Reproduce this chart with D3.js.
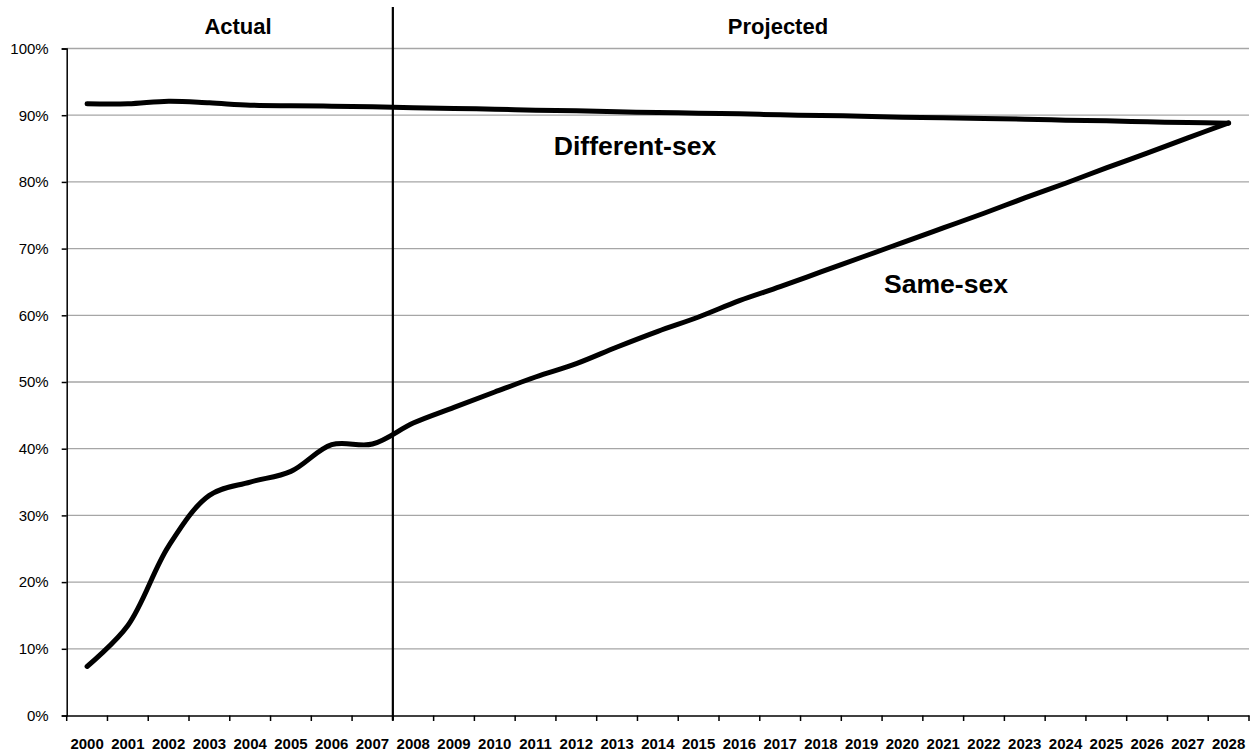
<!DOCTYPE html>
<html>
<head>
<meta charset="utf-8">
<script src="https://cdn.jsdelivr.net/npm/d3@7/dist/d3.min.js"></script>
<style>
  html, body { margin: 0; padding: 0; background: #fff; }
  svg { display: block; font-family: "Liberation Sans", Arial, sans-serif; }
</style>
</head>
<body>
<svg id="chart" width="1250" height="752"></svg>
<script>
// ---- data ----
const years = ["2000","2001","2002","2003","2004","2005","2006","2007","2008","2009",
  "2010","2011","2012","2013","2014","2015","2016","2017","2018","2019",
  "2020","2021","2022","2023","2024","2025","2026","2027","2028"];
const differentSex = [91.7, 91.7, 92.1, 91.85, 91.5, 91.4, 91.35, 91.25, 91.1, 91.0,
  90.9, 90.75, 90.65, 90.5, 90.4, 90.3, 90.2, 90.05, 89.95, 89.85,
  89.7, 89.6, 89.5, 89.4, 89.25, 89.15, 89.0, 88.9, 88.8];
const sameSex = [7.35, 13.5, 25.4, 33.0, 35.0, 36.6, 40.6, 40.7, 43.85, 46.2,
  48.5, 50.75, 52.75, 55.25, 57.6, 59.75, 62.2, 64.3, 66.5, 68.7,
  70.9, 73.1, 75.3, 77.6, 79.8, 82.1, 84.3, 86.6, 88.85];
const yTicks = [0, 10, 20, 30, 40, 50, 60, 70, 80, 90, 100];
const dividerYear = "2008"; // boundary between Actual and Projected
const periodLabels = [{text: "Actual", x: 238}, {text: "Projected", x: 778}];
const seriesLabels = [
  {text: "Different-sex", x: 635, y: 155},
  {text: "Same-sex", x: 946, y: 293}
];

(function () {
// ---- layout ----
const svg = d3.select("#chart");
const mLeft = 66.7, mRight = 1249, mTop = 48.5, mBottom = 715.5;

const x = d3.scaleBand().domain(years).range([mLeft, mRight]).padding(0);
const y = d3.scaleLinear().domain([0, 100]).range([mBottom, mTop]);
const cx = d => x(d) + x.bandwidth() / 2;

// gridlines
svg.append("g")
  .selectAll("line")
  .data(yTicks.filter(t => t > 0))
  .join("line")
  .attr("x1", mLeft).attr("x2", mRight)
  .attr("y1", d => y(d)).attr("y2", d => y(d))
  .attr("stroke", "#a6a6a6").attr("stroke-width", 1.3);

// y axis
const yAxis = svg.append("g")
  .attr("transform", `translate(${mLeft},0)`)
  .call(d3.axisLeft(y).tickValues(yTicks).tickFormat(d => d + "%").tickSize(5).tickPadding(13));
yAxis.select(".domain").attr("stroke", "#000").attr("stroke-width", 1.5);
yAxis.selectAll(".tick line").attr("stroke", "#000").attr("stroke-width", 1.5);
yAxis.selectAll(".tick text")
  .attr("font-family", "'Liberation Sans', Arial, sans-serif")
  .attr("font-size", 15).attr("fill", "#000");

// x axis
const xAxis = svg.append("g")
  .attr("transform", `translate(0,${mBottom})`)
  .call(d3.axisBottom(x).tickSize(0).tickPadding(23));
xAxis.select(".domain").attr("stroke", "#000").attr("stroke-width", 1.5);
xAxis.selectAll(".tick text")
  .attr("font-family", "'Liberation Sans', Arial, sans-serif")
  .attr("font-size", 15).attr("font-weight", "bold").attr("fill", "#000");

// x boundary ticks
const boundaries = years.map(d => x(d)).concat([mRight]);
svg.append("g")
  .selectAll("line")
  .data(boundaries)
  .join("line")
  .attr("x1", d => d).attr("x2", d => d)
  .attr("y1", mBottom).attr("y2", mBottom + 5.5)
  .attr("stroke", "#000").attr("stroke-width", 1.5);

// divider
svg.append("line")
  .attr("x1", x(dividerYear)).attr("x2", x(dividerYear))
  .attr("y1", 7).attr("y2", mBottom + 5)
  .attr("stroke", "#000").attr("stroke-width", 2.2);

// series lines
const line = d3.line()
  .x((d, i) => cx(years[i]))
  .y(d => y(d))
  .curve(d3.curveCatmullRom.alpha(0.5));

[differentSex, sameSex].forEach(s => {
  svg.append("path")
    .datum(s)
    .attr("d", line)
    .attr("fill", "none")
    .attr("stroke", "#000")
    .attr("stroke-width", 5)
    .attr("stroke-linecap", "round")
    .attr("stroke-linejoin", "round");
});

// period labels
svg.append("g")
  .selectAll("text")
  .data(periodLabels)
  .join("text")
  .attr("x", d => d.x).attr("y", 34)
  .attr("text-anchor", "middle")
  .attr("font-size", 22).attr("font-weight", "bold")
  .text(d => d.text);

// series labels
svg.append("g")
  .selectAll("text")
  .data(seriesLabels)
  .join("text")
  .attr("x", d => d.x).attr("y", d => d.y)
  .attr("text-anchor", "middle")
  .attr("font-size", 26.6).attr("font-weight", "bold")
  .text(d => d.text);
})();
</script>
</body>
</html>
